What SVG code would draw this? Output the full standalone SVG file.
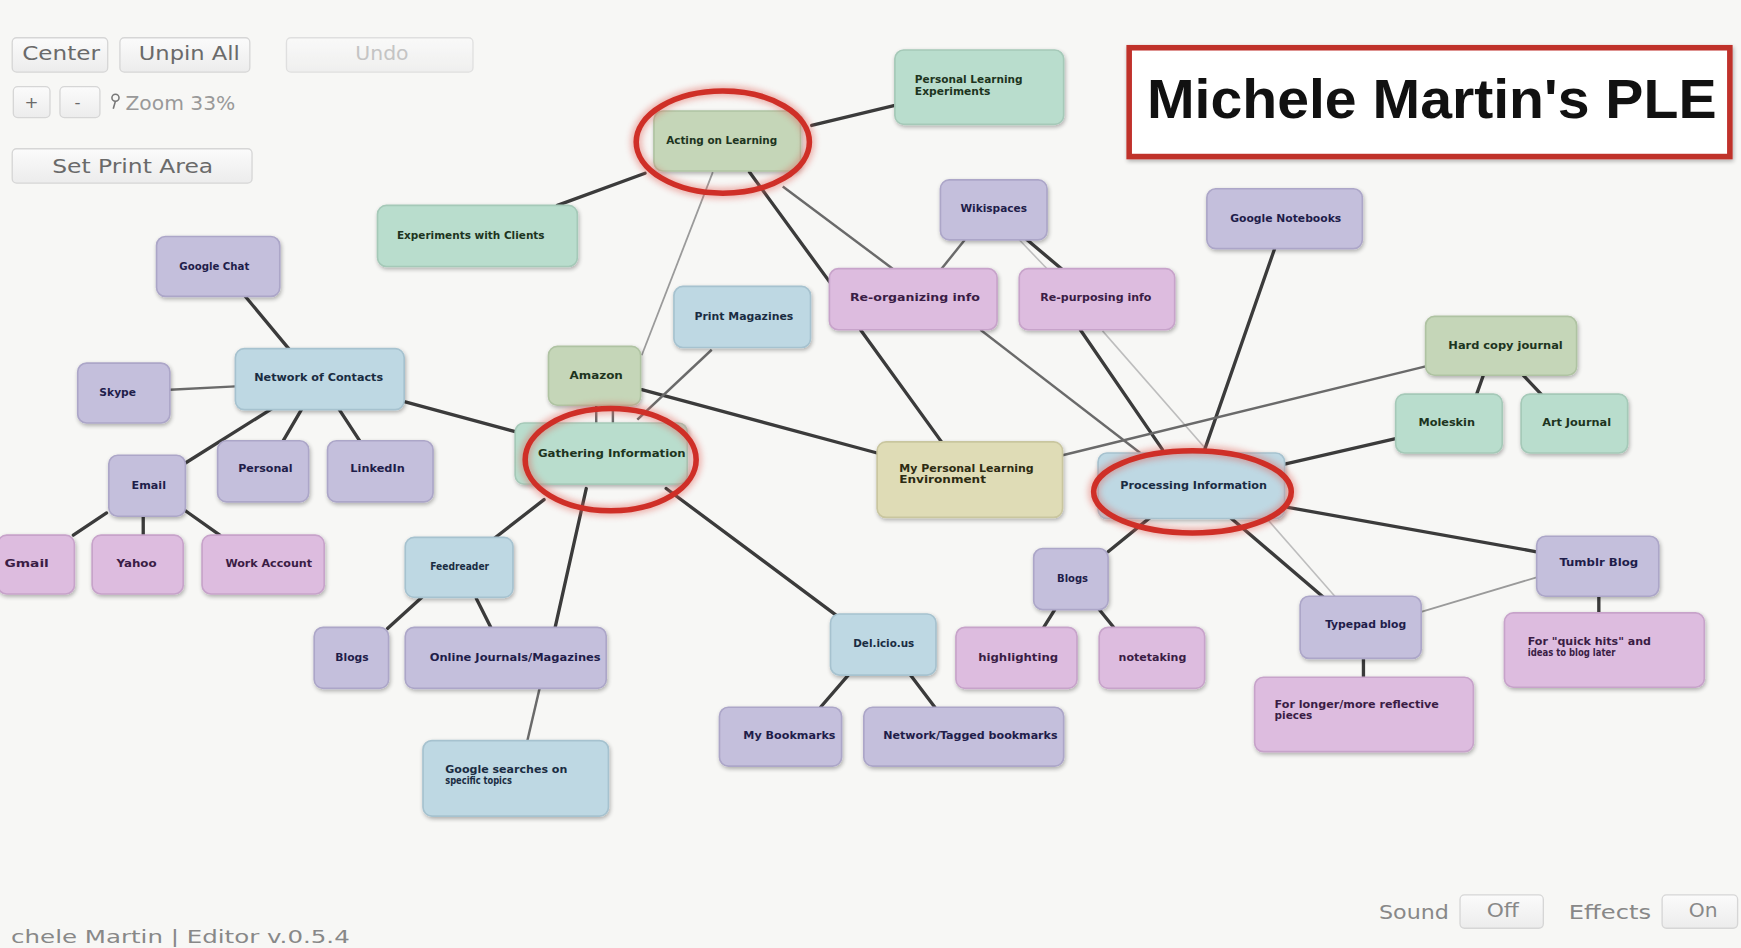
<svg xmlns="http://www.w3.org/2000/svg" width="1741" height="948" viewBox="0 0 1741 948">
<defs>
<filter id="sh" x="-20%" y="-20%" width="140%" height="150%"><feGaussianBlur in="SourceAlpha" stdDeviation="2"/><feOffset dx="1" dy="2" result="b"/><feComponentTransfer><feFuncA type="linear" slope="0.3"/></feComponentTransfer><feMerge><feMergeNode/><feMergeNode in="SourceGraphic"/></feMerge></filter>
<filter id="glow" x="-30%" y="-30%" width="160%" height="160%"><feGaussianBlur stdDeviation="3"/></filter>
<linearGradient id="btn" x1="0" y1="0" x2="0" y2="1"><stop offset="0" stop-color="#fbfbfb"/><stop offset="1" stop-color="#ececec"/></linearGradient>
<style>
.mint rect{fill:#b9ddcd;stroke:#a5c9b8;stroke-width:1.5}
.sage rect{fill:#c5d6b8;stroke:#afc3a2;stroke-width:1.5}
.lav rect{fill:#c4bfdc;stroke:#aca6c8;stroke-width:1.5}
.pink rect{fill:#ddbcdf;stroke:#c7a3ca;stroke-width:1.5}
.blue rect{fill:#bed8e3;stroke:#a6c2cf;stroke-width:1.5}
.tan rect{fill:#dfdcb6;stroke:#c9c69f;stroke-width:1.5}
.node rect{filter:url(#sh)}
.node text{font-family:"DejaVu Sans Condensed","DejaVu Sans",sans-serif;font-weight:bold;font-size:10px}
.mint text,.sage text{fill:#1d3420}
.lav text{fill:#1f1d4a}
.pink text{fill:#3a1d45}
.blue text{fill:#1a2c42}
.tan text{fill:#2d2b12}
.c text{text-anchor:middle}
.dk{stroke:#3b3b3b;stroke-width:3;fill:none;stroke-linecap:round}
.md{stroke:#6a6a6a;stroke-width:2.2;fill:none}
.lt{stroke:#9a9a9a;stroke-width:1.6;fill:none}
.vl{stroke:#bdbdbd;stroke-width:1.4;fill:none}
.ring{fill:none;stroke:#cf2f27;stroke-width:5}
.ringg{fill:none;stroke:#e06058;stroke-width:10;opacity:0.45;filter:url(#glow)}
.ui rect{fill:url(#btn);stroke:#d6d6d6;stroke-width:1.2}
.ui text{font-family:"DejaVu Sans",sans-serif;font-size:17px;fill:#6a6a6a}
</style>
</defs>
<rect width="1741" height="948" fill="#f7f7f5"/>
<g transform="scale(1.1103)">
<g id="connectors">
<line class="dk" x1="731" y1="113" x2="806" y2="95"/>
<line class="dk" x1="581" y1="156" x2="502" y2="185"/>
<line class="dk" x1="675" y1="155" x2="748" y2="255"/>
<line class="md" x1="705" y1="168" x2="804" y2="242"/>
<line class="lt" x1="642" y1="155" x2="578" y2="320"/>
<line class="dk" x1="775" y1="297" x2="848" y2="398"/>
<line class="md" x1="869" y1="216" x2="848" y2="242"/>
<line class="dk" x1="925" y1="216" x2="956" y2="242"/>
<line class="vl" x1="918" y1="216" x2="943" y2="242"/>
<line class="dk" x1="973" y1="297" x2="1047" y2="405"/>
<line class="vl" x1="993" y1="298" x2="1203" y2="538"/>
<line class="md" x1="883" y1="297" x2="1027" y2="408"/>
<line class="dk" x1="1148" y1="224" x2="1085" y2="405"/>
<line class="md" x1="957" y1="410" x2="1284" y2="330"/>
<line class="dk" x1="1157" y1="418" x2="1257" y2="395"/>
<line class="dk" x1="1160" y1="457" x2="1384" y2="497"/>
<line class="dk" x1="1036" y1="466" x2="998" y2="497"/>
<line class="dk" x1="1108" y1="466" x2="1192" y2="538"/>
<line class="lt" x1="1280" y1="551" x2="1384" y2="520"/>
<line class="dk" x1="578" y1="351" x2="790" y2="408"/>
<line class="md" x1="574" y1="378" x2="641" y2="315"/>
<line class="md" x1="537" y1="365" x2="537" y2="381"/>
<line class="md" x1="552" y1="365" x2="552" y2="381"/>
<line class="dk" x1="365" y1="362" x2="465" y2="389"/>
<line class="dk" x1="490" y1="450" x2="445" y2="485"/>
<line class="dk" x1="528" y1="440" x2="500" y2="565"/>
<line class="md" x1="486" y1="620" x2="475" y2="667"/>
<line class="dk" x1="600" y1="440" x2="753" y2="554"/>
<line class="dk" x1="380" y1="538" x2="349" y2="566"/>
<line class="dk" x1="429" y1="539" x2="442" y2="565"/>
<line class="dk" x1="764" y1="608" x2="739" y2="637"/>
<line class="dk" x1="820" y1="608" x2="842" y2="637"/>
<line class="dk" x1="950" y1="549" x2="940" y2="565"/>
<line class="dk" x1="990" y1="549" x2="1003" y2="565"/>
<line class="dk" x1="1228" y1="593" x2="1228" y2="610"/>
<line class="dk" x1="1440" y1="537" x2="1440" y2="552"/>
<line class="dk" x1="1336" y1="338" x2="1330" y2="355"/>
<line class="dk" x1="1372" y1="338" x2="1388" y2="355"/>
<line class="dk" x1="221" y1="267" x2="260" y2="314"/>
<line class="md" x1="153" y1="351" x2="212" y2="348"/>
<line class="dk" x1="245" y1="368" x2="167" y2="417"/>
<line class="dk" x1="272" y1="368" x2="255" y2="397"/>
<line class="dk" x1="305" y1="368" x2="324" y2="397"/>
<line class="dk" x1="96" y1="462" x2="66" y2="482"/>
<line class="dk" x1="129" y1="465" x2="129" y2="482"/>
<line class="dk" x1="167" y1="460" x2="198" y2="482"/>
</g>

<g id="n-ple-exp" class="node mint"><rect x="806" y="45" width="152" height="67" rx="8"/><text x="824" y="75" textLength="97" lengthAdjust="spacingAndGlyphs">Personal Learning</text><text x="824" y="86" textLength="68" lengthAdjust="spacingAndGlyphs">Experiments</text></g>
<g id="n-acting" class="node sage c"><rect x="589" y="100" width="132" height="54" rx="8"/><text x="650" y="130" textLength="100" lengthAdjust="spacingAndGlyphs">Acting on Learning</text></g>
<g id="n-clients" class="node mint c"><rect x="340" y="185" width="180" height="55" rx="8"/><text x="424" y="215" textLength="133" lengthAdjust="spacingAndGlyphs">Experiments with Clients</text></g>
<g id="n-gchat" class="node lav c"><rect x="141" y="213" width="111" height="54" rx="8"/><text x="193" y="243" textLength="63" lengthAdjust="spacingAndGlyphs">Google Chat</text></g>
<g id="n-wiki" class="node lav c"><rect x="847" y="162" width="96" height="54" rx="8"/><text x="895" y="191" textLength="60" lengthAdjust="spacingAndGlyphs">Wikispaces</text></g>
<g id="n-gnotes" class="node lav c"><rect x="1087" y="170" width="140" height="54" rx="8"/><text x="1158" y="200" textLength="100" lengthAdjust="spacingAndGlyphs">Google Notebooks</text></g>
<g id="n-reorg" class="node pink c"><rect x="747" y="242" width="151" height="55" rx="8"/><text x="824" y="271" textLength="117" lengthAdjust="spacingAndGlyphs">Re-organizing info</text></g>
<g id="n-repurp" class="node pink c"><rect x="918" y="242" width="140" height="55" rx="8"/><text x="987" y="271" textLength="100" lengthAdjust="spacingAndGlyphs">Re-purposing info</text></g>
<g id="n-printmag" class="node blue c"><rect x="607" y="258" width="123" height="55" rx="8"/><text x="670" y="288" textLength="89" lengthAdjust="spacingAndGlyphs">Print Magazines</text></g>
<g id="n-network" class="node blue c"><rect x="212" y="314" width="152" height="55" rx="8"/><text x="287" y="343" textLength="116" lengthAdjust="spacingAndGlyphs">Network of Contacts</text></g>
<g id="n-skype" class="node lav c"><rect x="70" y="327" width="83" height="54" rx="8"/><text x="106" y="357" textLength="33" lengthAdjust="spacingAndGlyphs">Skype</text></g>
<g id="n-amazon" class="node sage c"><rect x="494" y="312" width="83" height="53" rx="8"/><text x="537" y="341" textLength="48" lengthAdjust="spacingAndGlyphs">Amazon</text></g>
<g id="n-hardcopy" class="node sage c"><rect x="1284" y="285" width="136" height="53" rx="8"/><text x="1356" y="314" textLength="103" lengthAdjust="spacingAndGlyphs">Hard copy journal</text></g>
<g id="n-moleskin" class="node mint c"><rect x="1257" y="355" width="96" height="53" rx="8"/><text x="1303" y="384" textLength="51" lengthAdjust="spacingAndGlyphs">Moleskin</text></g>
<g id="n-artjournal" class="node mint c"><rect x="1370" y="355" width="96" height="53" rx="8"/><text x="1420" y="384" textLength="62" lengthAdjust="spacingAndGlyphs">Art Journal</text></g>
<g id="n-email" class="node lav c"><rect x="98" y="410" width="69" height="55" rx="8"/><text x="134" y="440" textLength="31" lengthAdjust="spacingAndGlyphs">Email</text></g>
<g id="n-personal" class="node lav c"><rect x="196" y="397" width="82" height="55" rx="8"/><text x="239" y="425" textLength="49" lengthAdjust="spacingAndGlyphs">Personal</text></g>
<g id="n-linkedin" class="node lav c"><rect x="295" y="397" width="95" height="55" rx="8"/><text x="340" y="425" textLength="49" lengthAdjust="spacingAndGlyphs">LinkedIn</text></g>
<g id="n-gathering" class="node mint c"><rect x="464" y="381" width="155" height="55" rx="8"/><text x="551" y="412" textLength="133" lengthAdjust="spacingAndGlyphs">Gathering Information</text></g>
<g id="n-mple" class="node tan"><rect x="790" y="398" width="167" height="68" rx="8"/><text x="810" y="425" textLength="121" lengthAdjust="spacingAndGlyphs">My Personal Learning</text><text x="810" y="435" textLength="78" lengthAdjust="spacingAndGlyphs">Environment</text></g>
<g id="n-processing" class="node blue c"><rect x="989" y="408" width="168" height="59" rx="8"/><text x="1075" y="440" textLength="132" lengthAdjust="spacingAndGlyphs">Processing Information</text></g>
<g id="n-gmail" class="node pink"><rect x="-2" y="482" width="69" height="53" rx="8"/><text x="4" y="511" textLength="40" lengthAdjust="spacingAndGlyphs">Gmail</text></g>
<g id="n-yahoo" class="node pink c"><rect x="83" y="482" width="82" height="53" rx="8"/><text x="123" y="511" textLength="36" lengthAdjust="spacingAndGlyphs">Yahoo</text></g>
<g id="n-work" class="node pink c"><rect x="182" y="482" width="110" height="53" rx="8"/><text x="242" y="511" textLength="78" lengthAdjust="spacingAndGlyphs">Work Account</text></g>
<g id="n-feedreader" class="node blue c"><rect x="365" y="484" width="97" height="54" rx="8"/><text x="414" y="513" textLength="53" lengthAdjust="spacingAndGlyphs">Feedreader</text></g>
<g id="n-blogs1" class="node lav c"><rect x="283" y="565" width="67" height="55" rx="8"/><text x="317" y="595" textLength="30" lengthAdjust="spacingAndGlyphs">Blogs</text></g>
<g id="n-online" class="node lav c"><rect x="365" y="565" width="181" height="55" rx="8"/><text x="464" y="595" textLength="154" lengthAdjust="spacingAndGlyphs">Online Journals/Magazines</text></g>
<g id="n-gsearch" class="node blue"><rect x="381" y="667" width="167" height="68" rx="8"/><text x="401" y="696" textLength="110" lengthAdjust="spacingAndGlyphs">Google searches on</text><text x="401" y="706" textLength="60" lengthAdjust="spacingAndGlyphs">specific topics</text></g>
<g id="n-delicious" class="node blue c"><rect x="748" y="553" width="95" height="55" rx="8"/><text x="796" y="583" textLength="55" lengthAdjust="spacingAndGlyphs">Del.icio.us</text></g>
<g id="n-mybook" class="node lav c"><rect x="648" y="637" width="110" height="53" rx="8"/><text x="711" y="666" textLength="83" lengthAdjust="spacingAndGlyphs">My Bookmarks</text></g>
<g id="n-nettag" class="node lav c"><rect x="778" y="637" width="180" height="53" rx="8"/><text x="874" y="666" textLength="157" lengthAdjust="spacingAndGlyphs">Network/Tagged bookmarks</text></g>
<g id="n-blogs2" class="node lav c"><rect x="931" y="494" width="67" height="55" rx="8"/><text x="966" y="524" textLength="28" lengthAdjust="spacingAndGlyphs">Blogs</text></g>
<g id="n-highlight" class="node pink c"><rect x="861" y="565" width="109" height="55" rx="8"/><text x="917" y="595" textLength="72" lengthAdjust="spacingAndGlyphs">highlighting</text></g>
<g id="n-notetaking" class="node pink c"><rect x="990" y="565" width="95" height="55" rx="8"/><text x="1038" y="595" textLength="61" lengthAdjust="spacingAndGlyphs">notetaking</text></g>
<g id="n-typepad" class="node lav c"><rect x="1171" y="537" width="109" height="56" rx="8"/><text x="1230" y="566" textLength="73" lengthAdjust="spacingAndGlyphs">Typepad blog</text></g>
<g id="n-tumblr" class="node lav c"><rect x="1384" y="483" width="110" height="54" rx="8"/><text x="1440" y="510" textLength="71" lengthAdjust="spacingAndGlyphs">Tumblr Blog</text></g>
<g id="n-longer" class="node pink"><rect x="1130" y="610" width="197" height="67" rx="8"/><text x="1148" y="638" textLength="148" lengthAdjust="spacingAndGlyphs">For longer/more reflective</text><text x="1148" y="648" textLength="34" lengthAdjust="spacingAndGlyphs">pieces</text></g>
<g id="n-quick" class="node pink"><rect x="1355" y="552" width="180" height="67" rx="8"/><text x="1376" y="581" textLength="111" lengthAdjust="spacingAndGlyphs">For "quick hits" and</text><text x="1376" y="591" textLength="79" lengthAdjust="spacingAndGlyphs">ideas to blog later</text></g>

<g id="highlights">
<ellipse class="ringg" cx="651" cy="128" rx="78" ry="46"/>
<ellipse class="ring" cx="651" cy="128" rx="78" ry="46"/>
<ellipse class="ringg" cx="550" cy="414" rx="77" ry="46"/>
<ellipse class="ring" cx="550" cy="414" rx="77" ry="46"/>
<ellipse class="ringg" cx="1074" cy="443" rx="89" ry="37"/>
<ellipse class="ring" cx="1074" cy="443" rx="89" ry="37"/>
</g>

<g id="title">
<rect x="1017" y="43" width="541" height="98" fill="#ffffff" stroke="#c0302c" stroke-width="5" filter="url(#sh)"/>
<text x="1033" y="106" font-family="'Liberation Sans',Arial,sans-serif" font-weight="bold" font-size="50" fill="#111" textLength="513" lengthAdjust="spacingAndGlyphs">Michele Martin's PLE</text>
</g>

<g id="toolbar" class="ui">
<rect x="11" y="34" width="86" height="31" rx="4"/><text x="20" y="54" textLength="70" lengthAdjust="spacingAndGlyphs">Center</text>
<rect x="108" y="34" width="117" height="31" rx="4"/><text x="125" y="54" textLength="91" lengthAdjust="spacingAndGlyphs">Unpin All</text>
<rect x="258" y="34" width="168" height="31" rx="4" opacity="0.7"/><text x="320" y="54" textLength="48" lengthAdjust="spacingAndGlyphs" style="fill:#c4c4c4">Undo</text>
<rect x="12" y="78" width="33" height="28" rx="4"/><text x="22" y="97" style="font-size:15px">+</text>
<rect x="54" y="78" width="36" height="28" rx="4"/><text x="67" y="97" style="font-size:15px">-</text>
<circle cx="104" cy="88" r="3.2" fill="none" stroke="#777" stroke-width="1.4"/><line x1="104" y1="91" x2="102" y2="98" stroke="#777" stroke-width="1.4"/>
<text x="113" y="99" textLength="99" lengthAdjust="spacingAndGlyphs" style="fill:#999">Zoom 33%</text>
<rect x="11" y="134" width="216" height="31" rx="4"/><text x="47" y="156" textLength="145" lengthAdjust="spacingAndGlyphs">Set Print Area</text>
</g>

<g id="footer" class="ui">
<text x="10" y="849" textLength="305" lengthAdjust="spacingAndGlyphs" style="fill:#888;font-size:16px">chele Martin | Editor v.0.5.4</text>
<text x="1242" y="828" textLength="63" lengthAdjust="spacingAndGlyphs" style="fill:#888;font-size:18px">Sound</text>
<rect x="1315" y="806" width="75" height="30" rx="4"/><text x="1339" y="826" textLength="29" lengthAdjust="spacingAndGlyphs" style="fill:#888">Off</text>
<text x="1413" y="828" textLength="74" lengthAdjust="spacingAndGlyphs" style="fill:#888;font-size:18px">Effects</text>
<rect x="1497" y="806" width="68" height="30" rx="4"/><text x="1521" y="826" textLength="26" lengthAdjust="spacingAndGlyphs" style="fill:#888">On</text>
</g>
</g>
</svg>
